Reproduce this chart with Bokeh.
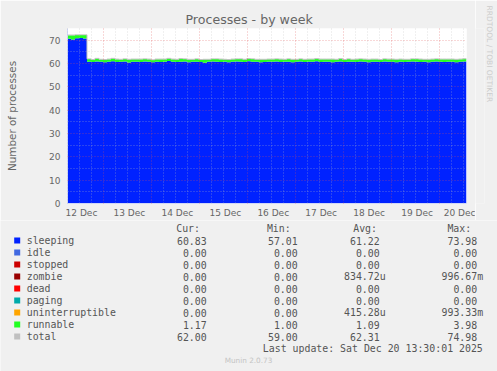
from datetime import datetime, timedelta
import math
import pandas as pd
from bokeh.plotting import figure
from bokeh.layouts import column, row
from bokeh.models import (ColumnDataSource, Range1d, FixedTicker, Grid,
                          DatetimeTickFormatter, Title)
from bokeh.transform import stack
from bokeh.core.properties import value
from bokeh.embed import file_html
from bokeh.resources import INLINE

# ---------------- data ----------------
sleeping = [
    70.6, 70.3, 70.8, 70.9, 70.7, 60.8, 60.6, 60.9, 60.7, 60.5,
    60.8, 61.0, 60.6, 60.7, 60.9, 60.4, 60.7, 60.8, 60.6, 60.9,
    60.7, 60.5, 60.8, 60.6, 60.7, 61.1, 60.8, 60.6, 60.7, 60.9,
    60.5, 60.7, 60.8, 60.6, 60.3, 60.7, 60.9, 60.8, 60.6, 60.7,
    60.5, 60.8, 60.9, 60.7, 60.6, 61.0, 60.8, 60.7, 60.5, 60.6,
    60.8, 60.7, 60.9, 60.6, 60.7, 60.8, 60.5, 60.7, 60.9, 60.6,
    60.8, 60.7, 61.0, 60.6, 60.7, 60.8, 60.5, 60.7, 60.9, 60.6,
    60.8, 60.7, 60.6, 60.9, 60.7, 60.5, 60.8, 60.7, 60.6, 60.9,
    60.8, 60.7, 60.5, 60.8, 60.6, 60.7, 60.9, 60.8, 60.6, 60.7,
    60.5, 60.8, 60.9, 60.7, 60.6, 60.8, 60.7, 60.5, 60.8, 60.83,
    60.83,
]
runnable = [
    1.5, 1.8, 1.4, 1.3, 1.5, 1.1, 1.0, 1.2, 1.0, 1.1,
    1.0, 1.1, 1.2, 1.0, 1.0, 1.3, 1.1, 1.0, 1.2, 1.0,
    1.1, 1.0, 1.0, 1.2, 1.1, 1.0, 1.0, 1.1, 1.3, 1.0,
    1.2, 1.0, 1.1, 1.0, 1.4, 1.0, 1.0, 1.1, 1.2, 1.0,
    1.1, 1.0, 1.0, 1.2, 1.1, 1.0, 1.1, 1.0, 1.2, 1.1,
    1.0, 1.1, 1.0, 1.2, 1.0, 1.1, 1.2, 1.0, 1.0, 1.1,
    1.0, 1.1, 1.0, 1.2, 1.1, 1.0, 1.3, 1.0, 1.1, 1.0,
    1.1, 1.0, 1.2, 1.0, 1.1, 1.2, 1.0, 1.1, 1.0, 1.0,
    1.0, 1.1, 1.2, 1.0, 1.1, 1.0, 1.0, 1.1, 1.2, 1.0,
    1.2, 1.0, 1.0, 1.1, 1.2, 1.0, 1.1, 1.2, 1.0, 1.17,
    1.17,
]
total = [
    72.2, 72.2, 72.3, 72.3, 72.3, 62.0, 61.7, 62.2, 61.8, 61.7,
    61.9, 62.2, 61.9, 61.8, 62.0, 61.8, 61.9, 61.9, 61.9, 62.0,
    61.9, 61.6, 61.9, 61.9, 61.9, 62.2, 61.9, 61.8, 62.1, 62.0,
    61.8, 61.8, 62.0, 61.7, 61.8, 61.8, 62.0, 62.0, 61.9, 61.8,
    61.7, 61.9, 62.0, 62.0, 61.8, 62.1, 62.0, 61.8, 61.8, 61.8,
    61.9, 61.9, 62.0, 61.9, 61.8, 62.0, 61.8, 61.8, 62.0, 61.8,
    61.9, 61.9, 62.1, 61.9, 61.9, 61.9, 61.9, 61.8, 62.1, 61.7,
    62.0, 61.8, 61.9, 62.0, 61.9, 61.8, 61.9, 61.9, 61.7, 62.0,
    61.9, 61.9, 61.8, 61.9, 61.8, 61.8, 62.0, 62.0, 61.9, 61.8,
    61.8, 61.9, 62.0, 61.9, 61.9, 61.9, 61.9, 61.8, 61.9, 62.0,
    62.0,
]
times = pd.date_range("2025-12-12 05:30", periods=len(sleeping), freq="2h")

x_start = datetime(2025, 12, 12, 5, 45)
x_end = datetime(2025, 12, 20, 13, 30)
y_ticks = [0, 10, 20, 30, 40, 50, 60, 70]
y_minor = [5, 15, 25, 35, 45, 55, 65, 75]
label_days = [12, 13, 14, 15, 16, 17, 18, 19, 20]

names = ["sleeping", "idle", "stopped", "zombie", "dead", "paging",
         "uninterruptible", "runnable", "total"]
colors = ["#0022ff", "#4169e1", "#cc0000", "#990000", "#ff0000", "#00aaaa",
          "#ffa500", "#22ff22", "#c0c0c0"]
cur = [60.83, 0, 0, 0, 0, 0, 0, 1.17, 62.00]
mins = [57.01, 0, 0, 0, 0, 0, 0, 1.00, 59.00]
avgs = [61.22, 0, 0, 834.72e-6, 0, 0, 415.28e-6, 1.09, 62.31]
maxs = [73.98, 0, 0, 996.67e-3, 0, 0, 993.33e-3, 3.98, 74.98]
last_update = "Last update: Sat Dec 20 13:30:01 2025"
watermark = "RRDTOOL / TOBI OETIKER"

FONT = "#666666"
LFONT = "#555555"
AXIS = "#CFD6F8"
BG = "#f0f0f0"

W = 497
MAIN_W = 475
TOP_H = 220
LEG_H = 371 - TOP_H
FRAME_TOP = 28
FRAME_BOTTOM = 203


def ms(dt):
    return (dt - datetime(1970, 1, 1)).total_seconds() * 1000.0


def fmt(v):
    if v == 0:
        return "0.00", False
    if abs(v) < 1e-3:
        return "%.2fu" % (v * 1e6), True
    if abs(v) < 1:
        return "%.2fm" % (v * 1e3), True
    return "%.2f" % v, False


# ---------------- main chart ----------------
src = ColumnDataSource(dict(x=times, sleeping=sleeping, runnable=runnable, total=total))

p = figure(width=MAIN_W, height=TOP_H, x_axis_type="datetime",
           x_range=Range1d(x_start, x_end), y_range=Range1d(0, 75),
           output_backend="svg", toolbar_location=None,
           min_border_left=67, min_border_right=MAIN_W - 466,
           min_border_top=FRAME_TOP, min_border_bottom=TOP_H - FRAME_BOTTOM,
           background_fill_color="white",
           border_fill_color=BG, outline_line_color=None)

p.title.text = "Processes - by week"
p.title.align = "left"
p.title.offset = 118
p.title.text_font = "DejaVu Sans"
p.title.text_font_size = "12.6px"
p.title.text_font_style = "normal"
p.title.text_color = FONT
p.title.standoff = 3

p.varea_step(x="x", y1=0, y2="sleeping", step_mode="after", source=src,
             fill_color=colors[0])
p.varea_step(x="x", y1=stack("sleeping"), y2=stack("sleeping", "runnable"),
             step_mode="after", source=src, fill_color=colors[7])
p.step(x="x", y="total", mode="after", source=src, line_color=colors[8],
       line_width=1)

# axes
p.xaxis.ticker = FixedTicker(ticks=[ms(datetime(2025, 12, d, 12, 45)) for d in label_days])
p.xaxis.formatter = DatetimeTickFormatter(days="%d %b", hours="%d %b",
                                          months="%d %b", minutes="%d %b")
p.yaxis.ticker = FixedTicker(ticks=y_ticks)
for ax in (p.xaxis, p.yaxis):
    ax.axis_line_color = AXIS
    ax.major_tick_line_color = None
    ax.minor_tick_line_color = None
    ax.major_tick_out = 0
    ax.major_tick_in = 0
    ax.minor_tick_out = 0
    ax.minor_tick_in = 0
    ax.major_label_text_font = "DejaVu Sans"
    ax.major_label_text_font_size = "9px"
    ax.major_label_text_color = FONT
p.xaxis.major_label_standoff = 4
p.yaxis.major_label_standoff = 7
p.yaxis.axis_label = "Number of processes"
p.yaxis.axis_label_text_font = "DejaVu Sans"
p.yaxis.axis_label_text_font_size = "10.4px"
p.yaxis.axis_label_text_font_style = "normal"
p.yaxis.axis_label_text_color = FONT
p.yaxis.axis_label_standoff = 28

# grids
p.xgrid.grid_line_color = None
p.ygrid.grid_line_color = None

midnights = [ms(datetime(2025, 12, d)) for d in range(13, 21)]
six_hours = []
for d in range(12, 21):
    for h in (6, 12, 18):
        six_hours.append(ms(datetime(2025, 12, d, h)))

MINOR = "rgba(186,186,186,0.45)"
MAJOR = "rgba(224,80,80,0.45)"
for dim, ticks, col in ((0, six_hours, MINOR), (1, y_minor, MINOR),
                        (0, midnights, MAJOR), (1, y_ticks[1:], MAJOR)):
    g = Grid(dimension=dim, ticker=FixedTicker(ticks=ticks),
             grid_line_color=col, grid_line_dash="1 2", grid_line_width=1,
             level="annotation")
    p.add_layout(g)

# ---------------- side strip with the vertical watermark ----------------
side = figure(width=W - MAIN_W, height=TOP_H, x_range=Range1d(0, 1), y_range=Range1d(0, 1),
              x_axis_type=None, y_axis_type=None,
              min_border_left=0, min_border_right=13,
              min_border_top=FRAME_TOP, min_border_bottom=TOP_H - FRAME_BOTTOM,
              output_backend="svg", toolbar_location=None,
              background_fill_color=BG, border_fill_color=BG,
              outline_line_color=None)
side.add_layout(Title(text=watermark, align="left", vertical_align="bottom",
                      offset=-23, standoff=0, text_font="DejaVu Sans",
                      text_font_size="7.5px", text_font_style="normal",
                      text_color="#cccccc"), "right")

# ---------------- legend ----------------
lg = figure(width=W, height=LEG_H, x_range=Range1d(0, W), y_range=Range1d(0, LEG_H),
            x_axis_type=None, y_axis_type=None, min_border=0,
            output_backend="svg", toolbar_location=None,
            background_fill_color=BG, border_fill_color=BG,
            outline_line_color=None)


def Y(page_y):
    return 371 - page_y


base = [240 + 12 * i for i in range(len(names))]
CW = 5.95
mono = dict(text_font=value("DejaVu Sans Mono"), text_font_size="9.9px",
            text_color=LFONT, text_baseline="alphabetic")

lg.scatter(x=[16.7] * len(names), y=[Y(240 + 12 * i) for i in range(len(names))],
           marker="square", size=6, color=colors, line_color=None)
lg.text(x=[26.2] * len(names), y=[Y(b) for b in base], text=names,
        text_align="left", **mono)

headers = ["Cur:", "Min:", "Avg:", "Max:"]
header_x = [175.7, 266.4, 352.7, 446.9]
lg.text(x=header_x, y=[Y(228.3)] * 4, text=headers, text_align="left", **mono)

col_right = [206.2, 297.2, 379.2, 476.7]
for vals, xr in zip((cur, mins, avgs, maxs), col_right):
    txt, xs = [], []
    for v in vals:
        s, unit = fmt(v)
        txt.append(s)
        xs.append(xr + (CW if unit else 0))
    lg.text(x=xs, y=[Y(b) for b in base], text=txt, text_align="right", **mono)

lg.text(x=[482.3], y=[Y(348.2)], text=[last_update], text_align="right", **mono)
lg.text(x=[248], y=[Y(360)], text=["Munin 2.0.73"], text_align="center",
        text_font=value("DejaVu Sans"), text_font_size="7.3px",
        text_color="#c4c4c4", text_baseline="alphabetic")

layout = column(row(p, side, spacing=0), lg, spacing=0)
open("out.html", "w").write(file_html(layout, INLINE))
